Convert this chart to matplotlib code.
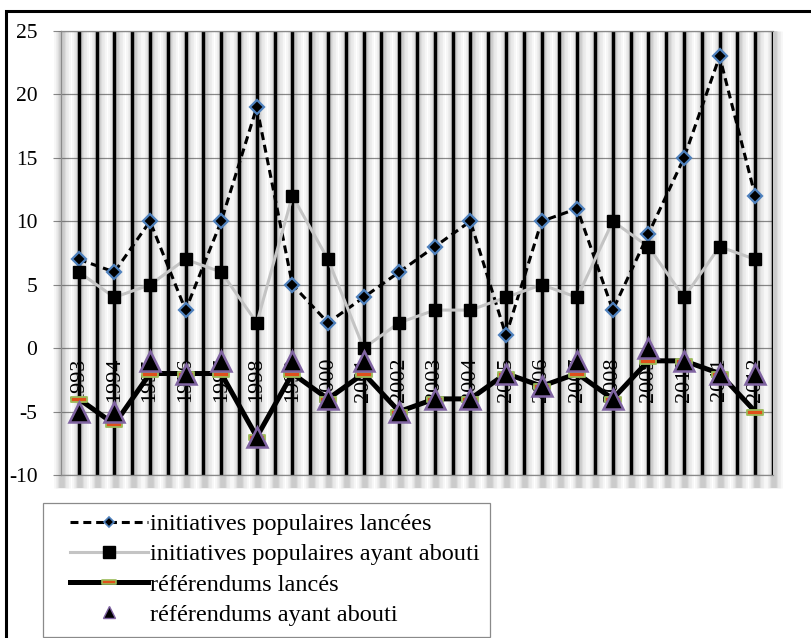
import numpy as np
import matplotlib
matplotlib.use('Agg')
import matplotlib.pyplot as plt
from matplotlib.lines import Line2D
from matplotlib.path import Path
import matplotlib.patches as mpatches

years = ['1993', '1994', '1995', '1996', '1997', '1998', '1999', '2000', '2001', '2002',
         '2003', '2004', '2005', '2006', '2007', '2008', '2009', '2010', '2011', '2012']
init_lancees = [7, 6, 10, 3, 10, 19, 5, 2, 4, 6, 8, 10, 1, 10, 11, 3, 9, 15, 23, 12]
init_abouties = [6, 4, 5, 7, 6, 2, 12, 7, 0, 2, 3, 3, 4, 5, 4, 10, 8, 4, 8, 7]
ref_lances = [-4, -6, -2, -2, -2, -7, -2, -4, -2, -5, -4, -4, -2, -3, -2, -4, -1, -1, -2, -5]
ref_aboutis = [-5, -5, -1, -2, -1, -7, -1, -4, -1, -5, -4, -4, -2, -3, -1, -4, 0, -1, -2, -2]
yticks = [-10, -5, 0, 5, 10, 15, 20, 25]
series_names = ['initiatives populaires lancées', 'initiatives populaires ayant abouti',
                'référendums lancés', 'référendums ayant abouti']

plt.rcParams['font.family'] = ['Liberation Serif', 'DejaVu Serif']

W, H = 812, 638
fig = plt.figure(figsize=(W / 100, H / 100), dpi=100)
ax = fig.add_axes([61 / W, 1 - 475 / H, (773 - 61) / W, (475 - 31) / H])
n = len(years)
x = np.arange(n)
ax.set_xlim(-0.5, n - 0.5)
ax.set_ylim(yticks[0], yticks[-1])

# horizontal gridlines
ax.set_yticks(yticks)
ax.set_yticklabels([str(v) for v in yticks], fontsize=15.5)
ax.yaxis.grid(True, color='#8a8a8a', lw=0.9, zorder=0)
ax.set_axisbelow(True)
ax.set_xticks([])
ax.tick_params(axis='y', direction='out', length=6, width=0.8, color='#8a8a8a', pad=11)
for s in ['left', 'bottom', 'top']:
    ax.spines[s].set_color('#8a8a8a')
    ax.spines[s].set_linewidth(0.9)
ax.spines['right'].set_visible(False)

# vertical black lines with blurred shadow
pos = np.arange(0, n, 0.5)
shadow_pos = np.arange(-0.5, n, 0.5)
for p in shadow_pos:
    for lw, a in [(12, 0.05), (9, 0.07), (6, 0.09), (4, 0.12)]:
        ax.plot([p + 0.04, p + 0.04], [yticks[-1], yticks[0] - 1.0], color='#555555', lw=lw,
                alpha=a, solid_capstyle='butt', zorder=1, clip_on=False)
for p in pos:
    ax.plot([p, p], [yticks[-1], yticks[0]], color='black', lw=2.5,
            solid_capstyle='butt', zorder=2)

# category labels at the zero line
for xi, yr in zip(x, years):
    ax.annotate(yr, (xi, 0), xytext=(0, -9), textcoords='offset pixels', rotation=90,
                ha='center', va='top', fontsize=16, zorder=2.5)

rect = Path([(-1, -0.3), (1, -0.3), (1, 0.3), (-1, 0.3), (-1, -0.3)],
            [Path.MOVETO, Path.LINETO, Path.LINETO, Path.LINETO, Path.CLOSEPOLY])

dash = (0, (2.6, 1.6))
ax.plot(x, init_lancees, color='black', lw=2.2, ls=dash, marker='D', ms=7.5,
        mfc='black', mec='#4f81bd', mew=1.6, zorder=4)
ax.plot(x, init_abouties, color='#c4c4c4', lw=2.2, marker='s', ms=8.5,
        mfc='black', mec='black', zorder=5)
ax.plot(x, ref_lances, color='black', lw=3.6, marker=rect, ms=12,
        mfc='#e0501a', mec='#9bbb59', mew=1.3, zorder=6)
ax.plot(x, ref_aboutis, ls='none', marker='^', ms=14, mfc='black',
        mec='#8064a2', mew=1.8, zorder=7)

# legend
handles = [
    Line2D([], [], color='black', lw=2.2, ls=dash, marker='D', ms=5, mfc='black',
           mec='#4f81bd', mew=1.2),
    Line2D([], [], color='#c4c4c4', lw=2.2, marker='s', ms=8, mfc='black', mec='black'),
    Line2D([], [], color='black', lw=3.6, marker=rect, ms=10, mfc='#e0501a',
           mec='#9bbb59', mew=1.2),
    Line2D([], [], ls='none', marker='^', ms=8, mfc='black', mec='#8064a2', mew=1.0),
]
fig.patches.append(mpatches.Rectangle((43 / W, 1 - 637 / H), (490 - 43) / W, (637 - 503) / H,
                                      transform=fig.transFigure, fill=False,
                                      edgecolor='#8a8a8a', lw=0.9))
fig.legend(handles, series_names, loc='upper left', bbox_to_anchor=(70 / W, 1 - 513 / H),
           bbox_transform=fig.transFigure, frameon=False, fontsize=17.5, handlelength=3.2,
           handletextpad=0.1, labelspacing=0.34, borderpad=0, borderaxespad=0)

# outer frame (top and left visible)
fig.patches.append(mpatches.Rectangle((6 / W, -0.05), 1.2, 1.05 - 11 / H,
                                      transform=fig.transFigure, fill=False,
                                      edgecolor='black', lw=2.2))

fig.savefig('out.png', dpi=100)
